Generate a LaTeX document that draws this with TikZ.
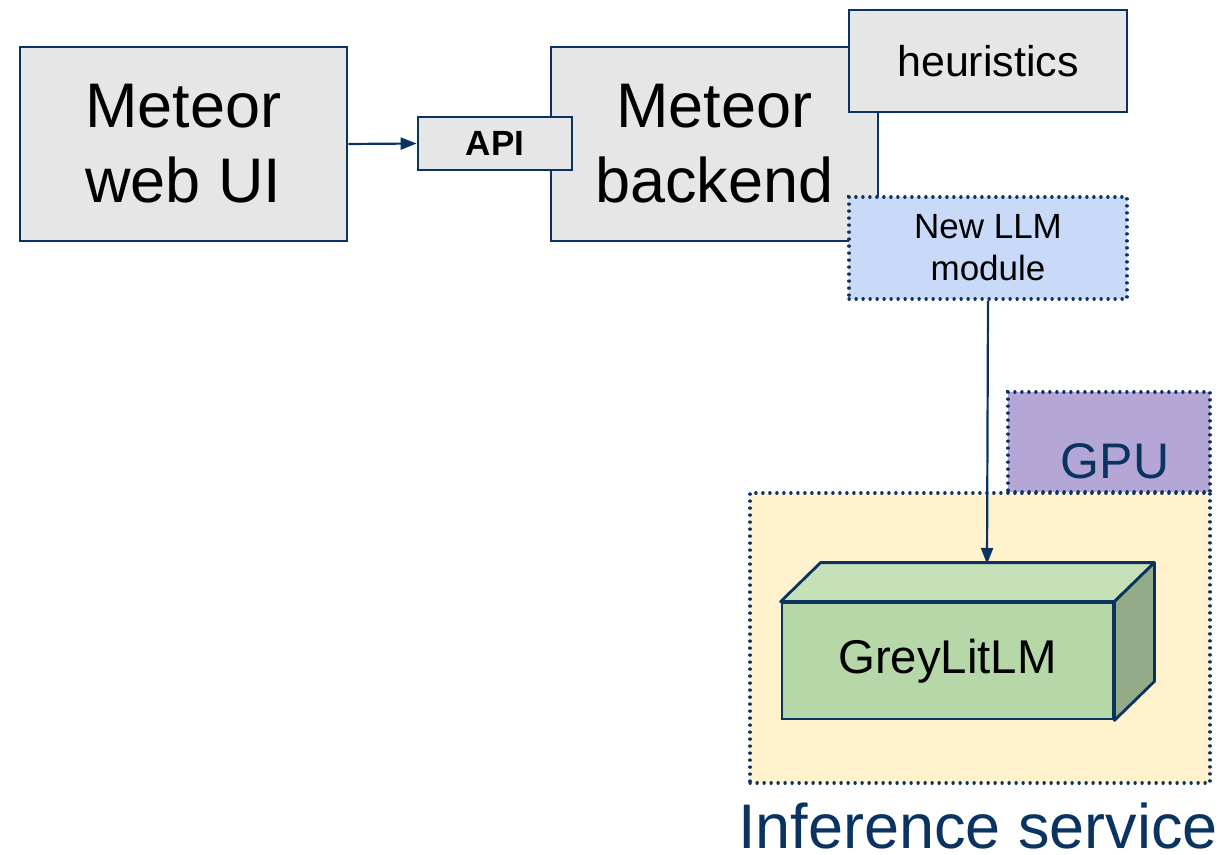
\documentclass[tikz,border=0pt]{standalone}
\usepackage{fontspec}
\setmainfont{Liberation Sans}
\usetikzlibrary{arrows.meta}
\definecolor{navy}{HTML}{0B3361}
\definecolor{boxgray}{HTML}{E6E6E6}
\definecolor{llmblue}{HTML}{C9DAF8}
\definecolor{gpupurple}{HTML}{B4A7D6}
\definecolor{infyellow}{HTML}{FFF2CC}
\definecolor{lmfront}{HTML}{B6D7A8}
\definecolor{lmtop}{HTML}{C6E0B8}
\definecolor{lmside}{HTML}{93AB86}
\tikzset{
  box/.style={draw=navy, line width=1.4pt, fill=boxgray, inner sep=0pt, align=center},
  dotbox/.style={draw=navy, line width=1.6pt, dash pattern=on 0.1pt off 3.4pt, line cap=round, inner sep=0pt, align=center},
  link/.style={draw=navy, line width=1.1pt, -{Triangle[length=8pt,width=6pt]}},
}
\begin{document}
\begin{tikzpicture}[x=0.5pt, y=-0.5pt]
    \useasboundingbox (0,0) rectangle (1225,855);
    % meteor side
    \node[box, minimum width=163.5pt, minimum height=97pt, font=\fontsize{31.5}{37.5}\selectfont] (webui) at (183.5,144) {Meteor\\web UI};
    \node[box, minimum width=163.5pt, minimum height=97pt, font=\fontsize{31.5}{37.5}\selectfont] (backend) at (714.5,144) {Meteor\\backend};
    \node[box, minimum width=139pt, minimum height=51pt, font=\fontsize{21.5}{25}\selectfont] (heur) at (988,61) {heuristics};
    \node[box, minimum width=77pt, minimum height=26.5pt, font=\fontsize{17.5}{20}\selectfont\bfseries] (api) at (495,143.5) {API};
    \node[dotbox, fill=llmblue, minimum width=139pt, minimum height=51pt, font=\fontsize{17.5}{21}\selectfont] (llm) at (988,248) {New LLM\\module};

    % inference service
    \node[dotbox, fill=infyellow, minimum width=230pt, minimum height=145pt] (infer) at (980,638) {};
    \node[dotbox, fill=gpupurple, minimum width=101pt, minimum height=50pt] (gpu) at (1109,442) {};
    \node[text=navy, font=\fontsize{25}{30}\selectfont] (gputxt) at (1115,461) {GPU};
    \node[text=navy, font=\fontsize{31.5}{38}\selectfont, inner sep=0pt, text depth=0pt, anchor=base] (infertxt) at (978,848) {Inference service};

    % greylitlm box
    \node[draw=navy, line width=1.4pt, fill=lmfront, minimum width=165.5pt, minimum height=58pt, font=\fontsize{23.7}{28}\selectfont] (greylit) at (947.5,661) {GreyLitLM};
    \draw[navy, line width=1.4pt, line join=round, fill=lmtop] (greylit.north west) -- ++(40,-39) -- ([shift={(40,-39)}]greylit.north east) -- (greylit.north east) -- cycle;
    \draw[navy, line width=1.4pt, line join=round, fill=lmside] (greylit.north east) -- ++(40,-39) -- ([shift={(40,-39)}]greylit.south east) -- (greylit.south east) -- cycle;
    \coordinate (lmtop) at (987,564);

    \draw[link] (webui.east) -- (api.west);
    \draw[link] (llm.south) -- (lmtop);
\end{tikzpicture}
\end{document}
